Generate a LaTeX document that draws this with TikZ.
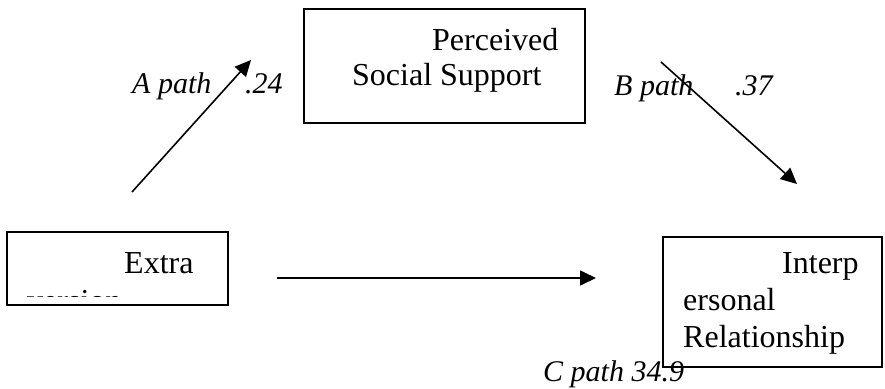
\documentclass[tikz,border=0pt]{standalone}
\usepackage{fontspec}
\setmainfont{Liberation Serif}
\usetikzlibrary{arrows.meta}
\tikzset{
  boxshape/.style={draw, line width=1.6pt, rectangle, inner sep=0pt},
  boxtext/.style={anchor=base west, inner sep=0pt, font=\fontsize{32}{37}\selectfont},
  pathlabel/.style={anchor=base west, inner sep=0pt, font=\fontsize{30}{34}\selectfont\itshape},
  conn/.style={line width=1.6pt, -{Triangle[length=16pt,width=15pt]}}
}
\begin{document}
\begin{tikzpicture}[x=1pt,y=-1pt]
\useasboundingbox (0,0) rectangle (885,388);
% boxes
\node[boxshape, minimum width=281pt, minimum height=114pt] (pss) at (444.5,66) {};
\node[boxshape, minimum width=221pt, minimum height=73pt] (ext) at (117.5,268.5) {};
\node[boxshape, minimum width=219pt, minimum height=130pt] (ipr) at (772.5,302) {};
% box texts
\node[boxtext] (psst1) at (432,50) {Perceived};
\node[boxtext] (psst2) at (352,85) {Social Support};
\node[boxtext] (extt1) at (124,273) {Extra};
\begin{scope}
  \clip (9,234) rectangle (226,296);
  \node[boxtext] (extt2) at (27,311) {version};
\end{scope}
\node[boxtext] (iprt1) at (782,273) {Interp};
\node[boxtext] (iprt2) at (683,310) {ersonal};
\node[boxtext] (iprt3) at (683,347) {Relationship};
% connector end points
\coordinate (aS) at (132,192);
\coordinate (aE) at (251,60);
\coordinate (bS) at (661,62);
\coordinate (bE) at (797,184);
\coordinate (cS) at (277,278);
\coordinate (cE) at (596,278);
\draw[conn] (aS) -- (aE);
\draw[conn] (bS) -- (bE);
\draw[conn] (cS) -- (cE);
% labels
\node[pathlabel] (la) at (132,93) {A path};
\node[pathlabel] (lav) at (245,93) {.24};
\node[pathlabel] (lb) at (614,95) {B path};
\node[pathlabel] (lbv) at (735,95) {.37};
\node[pathlabel] (lc) at (543,381) {C path 34.9};
\end{tikzpicture}
\end{document}
